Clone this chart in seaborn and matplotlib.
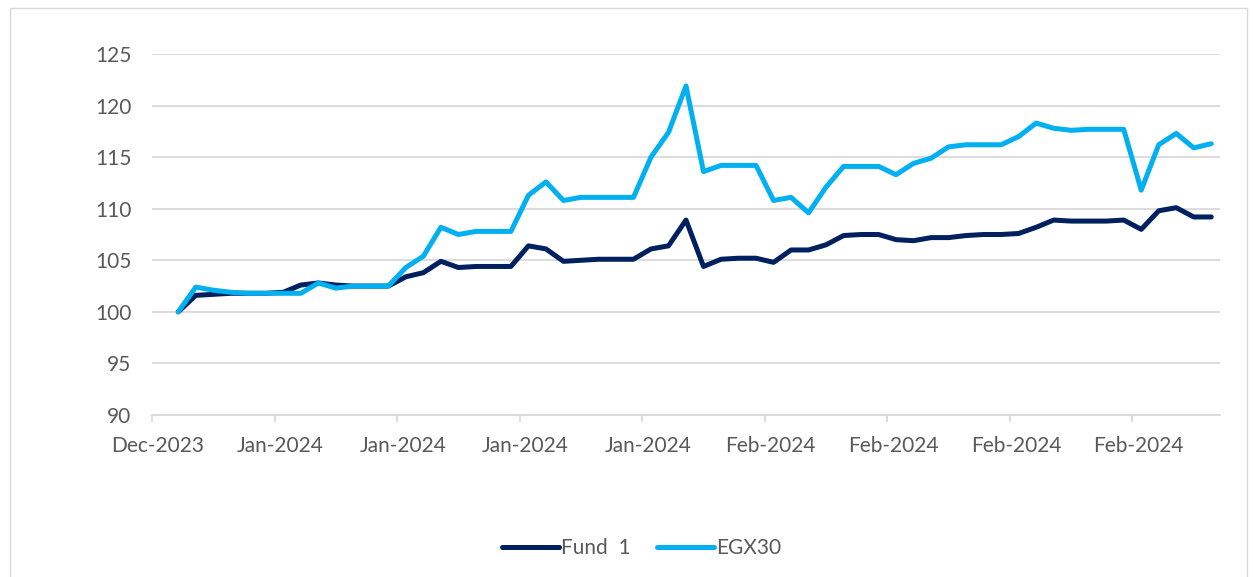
import matplotlib
matplotlib.use("Agg")
import matplotlib.pyplot as plt
import matplotlib.dates as mdates
import matplotlib.transforms as mtransforms
from matplotlib.patches import Rectangle
import pandas as pd
import seaborn as sns

# Daily index values, rebased to 100 on the first trading day
dates = pd.date_range("2024-01-01", "2024-02-29", freq="D")

fund_1 = [
    100.0, 101.6, 101.7, 101.8, 101.8, 101.8, 101.9, 102.6, 102.8, 102.6,
    102.5, 102.5, 102.5, 103.4, 103.8, 104.9, 104.3, 104.4, 104.4, 104.4,
    106.4, 106.1, 104.9, 105.0, 105.1, 105.1, 105.1, 106.1, 106.4, 108.9,
    104.4, 105.1, 105.2, 105.2, 104.8, 106.0, 106.0, 106.5, 107.4, 107.5,
    107.5, 107.0, 106.9, 107.2, 107.2, 107.4, 107.5, 107.5, 107.6, 108.2,
    108.9, 108.8, 108.8, 108.8, 108.9, 108.0, 109.8, 110.1, 109.2, 109.2,
]

egx30 = [
    100.0, 102.4, 102.1, 101.9, 101.8, 101.8, 101.8, 101.8, 102.8, 102.3,
    102.5, 102.5, 102.5, 104.3, 105.4, 108.2, 107.5, 107.8, 107.8, 107.8,
    111.3, 112.6, 110.8, 111.1, 111.1, 111.1, 111.1, 115.0, 117.4, 121.9,
    113.6, 114.2, 114.2, 114.2, 110.8, 111.1, 109.6, 112.1, 114.1, 114.1,
    114.1, 113.3, 114.4, 114.9, 116.0, 116.2, 116.2, 116.2, 117.0, 118.3,
    117.8, 117.6, 117.7, 117.7, 117.7, 111.8, 116.2, 117.3, 115.9, 116.3,
]

series_names = ["Fund  1", "EGX30"]
series_colors = ["#002060", "#00B0F0"]
y_ticks = [90, 95, 100, 105, 110, 115, 120, 125]

df = pd.concat(
    [
        pd.DataFrame({"date": dates, "value": fund_1, "series": series_names[0]}),
        pd.DataFrame({"date": dates, "value": egx30, "series": series_names[1]}),
    ],
    ignore_index=True,
)
# each day is plotted in the middle of its slot on the date axis
df["pos"] = df["date"] + pd.Timedelta(hours=12)

sns.set_theme(style="white")
plt.rcParams["font.family"] = ["Lato", "DejaVu Sans"]

TXT = "#595959"
GRID = "#D9D9D9"
FS = 15

fig = plt.figure(figsize=(12.53, 5.77), dpi=100)
ax = fig.add_axes([152 / 1253, 1 - 415 / 577, (1220 - 152) / 1253, (415 - 54) / 577])

sns.lineplot(
    data=df, x="pos", y="value", hue="series",
    hue_order=series_names, palette=series_colors,
    linewidth=3.6, ax=ax, legend=True,
)
for line in ax.get_lines():
    line.set_solid_capstyle("round")
    line.set_solid_joinstyle("round")

ax.set_xlim(pd.Timestamp("2023-12-31"), pd.Timestamp("2024-03-01"))
ax.set_ylim(90, 125)
ax.set_yticks(y_ticks)
ax.set_xticks(pd.date_range("2023-12-31", periods=9, freq="7D"))
ax.xaxis.set_major_formatter(mdates.DateFormatter("%b-%Y"))

ax.grid(axis="y", color=GRID, linewidth=1.3)
ax.grid(axis="x", visible=False)
ax.set_axisbelow(True)
for s in ["top", "right", "left"]:
    ax.spines[s].set_visible(False)
ax.spines["bottom"].set_color(GRID)
ax.spines["bottom"].set_linewidth(1.3)
ax.spines["bottom"].set_zorder(0)

ax.tick_params(axis="y", length=0, pad=15, labelsize=FS, labelcolor=TXT)
ax.tick_params(axis="x", direction="out", length=5, width=1.3, color=GRID,
               pad=10, labelsize=FS, labelcolor=TXT, bottom=True)
ax.set_xlabel("")
ax.set_ylabel("")

# date labels sit slightly right of their tick marks
shift = mtransforms.ScaledTranslation(6 / 100, 0, fig.dpi_scale_trans)
for lbl in ax.get_xticklabels():
    lbl.set_transform(lbl.get_transform() + shift)

leg = ax.legend(
    loc="center", bbox_to_anchor=(0.512, 0.05), bbox_transform=fig.transFigure,
    ncol=2, frameon=False, fontsize=FS, handlelength=2.7,
    handletextpad=0.1, columnspacing=1.3,
)
for t in leg.get_texts():
    t.set_color(TXT)
for h in leg.get_lines():
    h.set_linewidth(3.6)
    h.set_solid_capstyle("round")

# thin frame around the chart area
fig.patches.append(Rectangle((10 / 1253, -0.05), 1237 / 1253, 1.05 - 8 / 577,
                             transform=fig.transFigure, fill=False,
                             edgecolor=GRID, linewidth=1.0))

fig.savefig("out.png", dpi=100, facecolor="white")
